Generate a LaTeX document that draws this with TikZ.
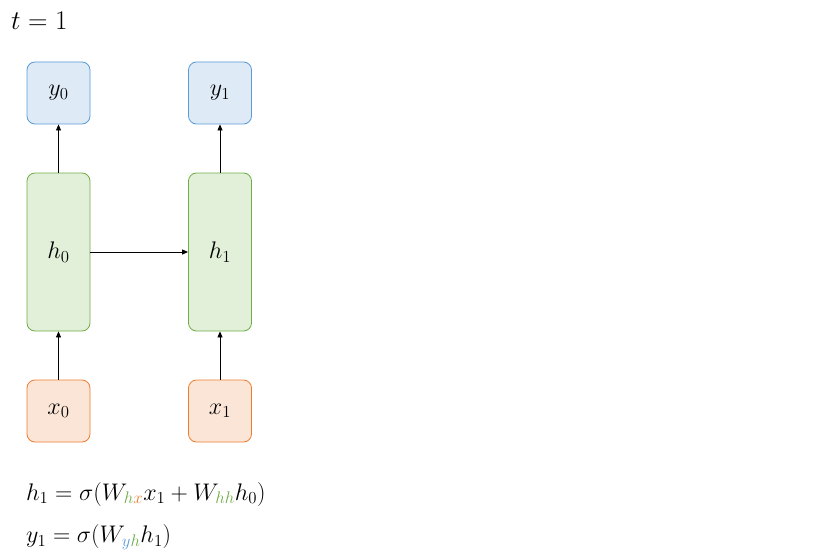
\RequirePackage{fix-cm}
\documentclass[tikz,border=0pt]{standalone}
\usetikzlibrary{arrows.meta}
\definecolor{bfill}{HTML}{DEEBF7}
\definecolor{bdraw}{HTML}{5B9BD5}
\definecolor{gfill}{HTML}{E2F0D9}
\definecolor{gdraw}{HTML}{70AD47}
\definecolor{ofill}{HTML}{FBE5D6}
\definecolor{odraw}{HTML}{ED7D31}
\tikzset{
  cell/.style={rounded corners=8pt, line width=0.8pt, minimum width=63pt, inner sep=0pt, font=\fontsize{24}{28}\selectfont},
  ybox/.style={cell, fill=bfill, draw=bdraw, minimum height=62pt},
  hbox/.style={cell, fill=gfill, draw=gdraw, minimum height=158pt},
  xbox/.style={cell, fill=ofill, draw=odraw, minimum height=62pt},
  conn/.style={line width=0.8pt, -{Triangle[length=6pt,width=5pt]}},
  eq/.style={anchor=west, inner sep=0pt, font=\fontsize{24}{28}\selectfont}
}
\begin{document}
\begin{tikzpicture}[x=1pt,y=-1pt]
\useasboundingbox (0,0) rectangle (813,559);
\node[anchor=west, inner sep=0pt, font=\fontsize{27}{32}\selectfont] (t) at (11,21) {$t=1$};
\node[ybox] (y0) at (58.5,93) {$y_0$};
\node[ybox] (y1) at (220,93) {$y_1$};
\node[hbox] (h0) at (58.5,252) {$h_0$};
\node[hbox] (h1) at (220,252) {$h_1$};
\node[xbox] (x0) at (58.5,411) {$x_0$};
\node[xbox] (x1) at (220,411) {$x_1$};
\draw[conn] (x0) -- (h0);
\draw[conn] (x1) -- (h1);
\draw[conn] (h0) -- (y0);
\draw[conn] (h1) -- (y1);
\draw[conn] (h0) -- (h1);
\node[eq] (e1) at (26,494) {$h_1 = \sigma(W_{\textcolor{gdraw}{h}\textcolor{odraw}{x}}x_1 + W_{\textcolor{gdraw}{hh}}h_0)$};
\node[eq] (e2) at (26,537) {$y_1 = \sigma(W_{\textcolor{bdraw}{y}\textcolor{gdraw}{h}}h_1)$};
\end{tikzpicture}
\end{document}
